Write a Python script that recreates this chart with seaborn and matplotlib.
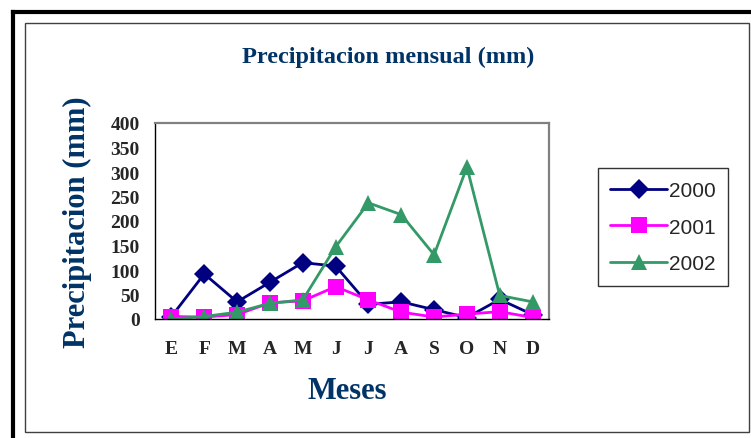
import pandas as pd
import seaborn as sns
import matplotlib.pyplot as plt
from matplotlib.lines import Line2D
from matplotlib.patches import Rectangle

# Data
meses = ['E', 'F', 'M', 'A', 'M', 'J', 'J', 'A', 'S', 'O', 'N', 'D']
p2000 = [5, 92, 35, 75, 115, 108, 30, 35, 19, 3, 40, 9]
p2001 = [5, 4, 9, 33, 37, 66, 39, 14, 4, 10, 15, 3]
p2002 = [0, 5, 14, 32, 39, 147, 237, 213, 131, 310, 48, 35]
years = ['2000', '2001', '2002']

df = pd.DataFrame({'pos': list(range(12)) * 3,
                   'valor': p2000 + p2001 + p2002,
                   'anio': [y for y in years for _ in range(12)]})

sns.set_style('white')
navy = '#003366'
W, H = 751, 439
fig = plt.figure(figsize=(W / 100, H / 100), dpi=100)
ax = fig.add_axes([155 / W, 1 - 320 / H, (549 - 155) / W, (320 - 124) / H])

palette = {'2000': '#000080', '2001': '#FF00FF', '2002': '#339966'}
markers = {'2000': 'D', '2001': 's', '2002': '^'}
sizes_mk = {'2000': 10, '2001': 11, '2002': 12}

sns.lineplot(data=df, x='pos', y='valor', hue='anio', style='anio',
             palette=palette, markers=markers, dashes=False, linewidth=2,
             markersize=10, markeredgewidth=0, ax=ax, legend=False)
for line, y in zip(ax.get_lines(), years):
    line.set_markersize(sizes_mk[y])

ax.set_xlim(-0.5, 11.5)
ax.set_ylim(0, 400)
ax.set_yticks(range(0, 401, 50))
ax.set_xticks(range(12))
ax.set_xticklabels(meses)
ax.set_xticks([i - 0.5 for i in range(13)], minor=True)
ax.tick_params(axis='x', which='major', length=0, pad=15)
ax.tick_params(axis='x', which='minor', length=5, width=1, direction='out', color='black')
ax.tick_params(axis='y', length=5, width=1, direction='out', color='black', pad=6)
for lab in ax.get_xticklabels() + ax.get_yticklabels():
    lab.set_fontfamily('Liberation Serif')
    lab.set_fontweight('bold')
    lab.set_fontsize(14)
for s in ['left', 'bottom']:
    ax.spines[s].set_color('black')
    ax.spines[s].set_linewidth(1)
for s in ['top', 'right']:
    ax.spines[s].set_color('#808080')
    ax.spines[s].set_linewidth(1.6)
ax.set_xlabel('')
ax.set_ylabel('')

serif = dict(family='Liberation Serif', weight='bold', color=navy)
fig.text(388 / W, 1 - 57 / H, 'Precipitacion mensual (mm)', ha='center', va='center',
         fontsize=17.5, **serif)
fig.text(77 / W, 1 - 222 / H, 'Precipitacion (mm)', ha='center', va='center',
         rotation=90, fontsize=22, **serif)
fig.text(347 / W, 1 - 392 / H, 'Meses', ha='center', va='center', fontsize=22, **serif)

handles = [Line2D([], [], color=palette[y], marker=markers[y], lw=2,
                  markersize=sizes_mk[y], markeredgewidth=0) for y in years]
leg = fig.legend(handles, years, loc='center',
                 bbox_to_anchor=(663 / W, 1 - 228 / H), bbox_transform=fig.transFigure,
                 prop={'family': 'Liberation Sans', 'size': 15}, handlelength=2.7,
                 frameon=True, fancybox=False, borderpad=0.6, labelspacing=0.85,
                 handletextpad=0.1, borderaxespad=0)
leg.get_frame().set_edgecolor('black')
leg.get_frame().set_linewidth(1)

# outer frame: thick black corner and thin inner border
fig.add_artist(Line2D([13 / W, 13 / W], [0, 1 - 13 / H], color='black', lw=3,
                      transform=fig.transFigure, solid_capstyle='projecting'))
fig.add_artist(Line2D([13 / W, 1], [1 - 13 / H, 1 - 13 / H], color='black', lw=3,
                      transform=fig.transFigure, solid_capstyle='projecting'))
fig.add_artist(Rectangle((25 / W, 1 - 433 / H), (749 - 25) / W, (433 - 24) / H,
                         fill=False, edgecolor='#404040', lw=1, transform=fig.transFigure))

fig.savefig('out.png', dpi=100)
